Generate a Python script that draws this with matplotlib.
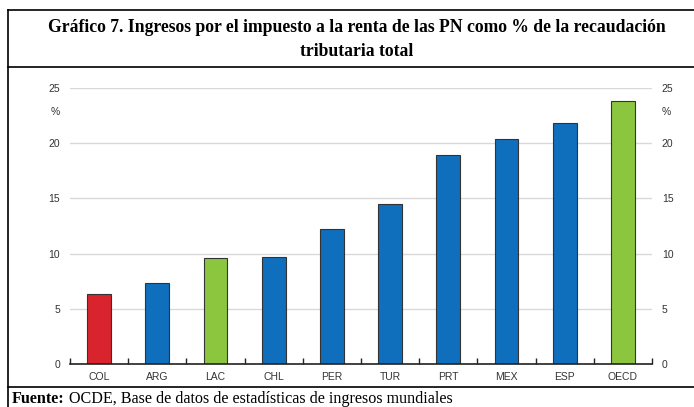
import numpy as np
import matplotlib
matplotlib.use("Agg")
import matplotlib.pyplot as plt
from matplotlib.lines import Line2D

# data
countries = ["COL", "ARG", "LAC", "CHL", "PER", "TUR", "PRT", "MEX", "ESP", "OECD"]
values = [6.3, 7.3, 9.6, 9.7, 12.2, 14.5, 18.9, 20.4, 21.8, 23.8]
bar_colors = ["#d9232d", "#0f6fbc", "#8cc63f", "#0f6fbc", "#0f6fbc",
              "#0f6fbc", "#0f6fbc", "#0f6fbc", "#0f6fbc", "#8cc63f"]
yticks = [0, 5, 10, 15, 20, 25]

title_1 = "Gráfico 7. Ingresos por el impuesto a la renta de las PN como % de la recaudación"
title_2 = "tributaria total"
source_bold = "Fuente:"
source_rest = " OCDE, Base de datos de estadísticas de ingresos mundiales"

W, H = 694, 407
fig = plt.figure(figsize=(W / 100, H / 100), dpi=100)
fig.patch.set_facecolor("white")

def fx(px):
    return px / W

def fy(py):
    return 1 - py / H

# frame lines
black = (0, 0, 0, 1)
for (x0, y0, x1, y1) in [(8, 10, 694, 10), (8, 67, 694, 67), (8, 387, 694, 387), (8, 10, 8, 407)]:
    fig.add_artist(Line2D([fx(x0), fx(x1)], [fy(y0), fy(y1)], color=black, lw=1.2,
                          transform=fig.transFigure))

serif = ["Liberation Serif", "DejaVu Serif"]
sans = ["Liberation Sans", "DejaVu Sans"]

t1 = fig.text(fx(357), fy(27), title_1, ha="center", va="center", family=serif,
              fontweight="bold", fontsize=13)
t2 = fig.text(fx(357), fy(52), title_2, ha="center", va="center", family=serif,
              fontweight="bold", fontsize=13)

# fit title width to about 613 px
fig.canvas.draw()
r = fig.canvas.get_renderer()
w = t1.get_window_extent(r).width
fs = 13 * 613 / w
t1.set_fontsize(fs)
t2.set_fontsize(fs)

# plot area
ax = fig.add_axes([fx(70), 1 - 364 / H, (652 - 70) / W, (364 - 88) / H])
x = np.arange(len(countries))
ax.bar(x, values, width=0.41, color=bar_colors, edgecolor="#333333", linewidth=0.8, zorder=3)

ax.set_xlim(-0.5, len(countries) - 0.5)
ax.set_ylim(0, 25)
ax.set_yticks(yticks)
ax.grid(axis="y", color="#d9d9d9", lw=1, zorder=0)
ax.set_axisbelow(True)
for s in ["top", "left", "right"]:
    ax.spines[s].set_visible(False)
ax.spines["bottom"].set_color("#222222")
ax.spines["bottom"].set_linewidth(1.2)
ax.spines["bottom"].set_zorder(4)

ax.set_xticks(x)
ax.set_xticklabels(countries, family=sans, fontsize=7.5, color="#333333")
ax.tick_params(axis="x", which="major", length=0, pad=6)
ax.set_xticks(np.arange(-0.5, len(countries)), minor=True)
ax.tick_params(axis="x", which="minor", direction="in", length=4, width=1, color="#222222")

ax.tick_params(axis="y", length=0, labelleft=True, labelright=True, labelsize=7.5,
               labelcolor="#333333", pad=7)
for t in ax.yaxis.get_major_ticks():
    t.label1.set_family(sans)
    t.label2.set_family(sans)

ax.annotate("%", xy=(0, 22.8), xycoords=("axes fraction", "data"), xytext=(-7, 0),
            textcoords="offset points", ha="right", va="center", family=sans,
            fontsize=7.5, color="#333333")
ax.annotate("%", xy=(1, 22.8), xycoords=("axes fraction", "data"), xytext=(7, 0),
            textcoords="offset points", ha="left", va="center", family=sans,
            fontsize=7.5, color="#333333")

# source line at the bottom edge
src_fs = 11.6
sb = fig.text(fx(12), fy(403), source_bold, ha="left", va="baseline", family=serif,
              fontweight="bold", fontsize=src_fs)
fig.canvas.draw()
bb = sb.get_window_extent(fig.canvas.get_renderer())
fig.text(bb.x1 / W, fy(403), source_rest, ha="left", va="baseline", family=serif,
         fontsize=src_fs)

fig.savefig("out.png", dpi=100)
